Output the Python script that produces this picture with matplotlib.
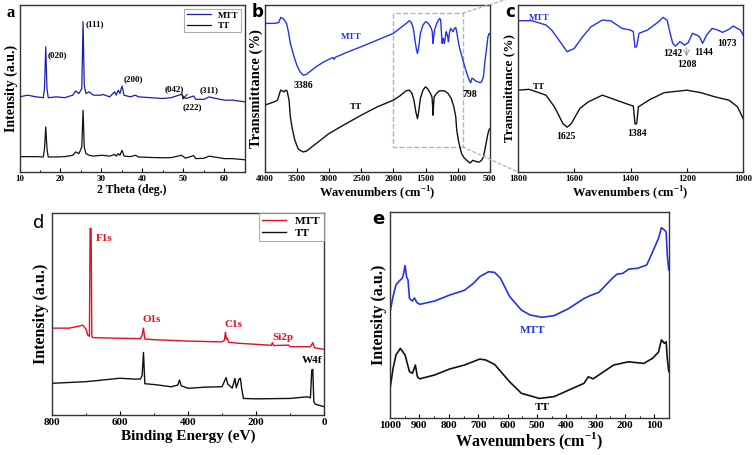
import matplotlib
matplotlib.use("Agg")
import matplotlib.pyplot as plt
from matplotlib.patches import Rectangle, ConnectionPatch

plt.rcParams['font.family'] = ['Liberation Serif', 'DejaVu Serif']
plt.rcParams['font.weight'] = 'bold'
plt.rcParams['axes.labelweight'] = 'bold'
plt.rcParams['mathtext.fontset'] = 'custom'
plt.rcParams['mathtext.rm'] = 'Liberation Serif:bold'
plt.rcParams['mathtext.bf'] = 'Liberation Serif:bold'

# ---------------- data (arbitrary units 0-100) ----------------
# a: XRD
xrd_theta = [10, 12, 14, 15.8, 16.1, 16.4, 16.7, 17, 19, 21, 23, 23.7, 24.5, 25.2, 25.5, 25.8,
             26.2, 27, 28, 30, 30.3, 32, 33.2, 33.6, 34.1, 34.5, 35.0, 35.5, 37, 38.3, 39, 42, 45,
             47, 49.5, 50.5, 52.5, 53, 55, 56.3, 57, 60, 62, 65]
xrd_mtt = [45, 46, 45, 44.5, 50, 75, 50, 44.5, 45, 44.5, 46, 48.5, 47, 50, 90, 52,
           47, 48, 46, 46, 46.5, 45, 48, 46, 49, 47, 51.5, 46, 45, 46, 45, 44.5, 44,
           44.5, 46.5, 44, 45.5, 43.5, 43.5, 45, 44.5, 43, 43, 42]
xrd_tt = [9.2, 9.2, 9.2, 9, 14, 27, 14, 9, 9, 9.2, 10, 12, 11, 15, 37, 15,
          11, 10, 9.5, 10, 10, 9.5, 10.5, 9.5, 11, 10, 13, 9.5, 9.2, 10, 9, 8.7, 8.5,
          8.6, 10, 8.3, 9.8, 8, 8.2, 9.5, 9.2, 8, 8, 7.3]
xrd_labels = ["(020)", "(111)", "(200)", "(042)", "(311)"]
xrd_label_pos = [(16.95, 70), (26.2, 88.6), (35.5, 55.7), (45.5, 49.7), (54.0, 49)]

# b: FTIR full range
ir_wn_mtt = [4000, 3850, 3780, 3750, 3720, 3700, 3660, 3630, 3600, 3550, 3500, 3450, 3400, 3386,
             3350, 3300, 3200, 3100, 3000, 2940, 2920, 2900, 2700, 2500, 2250, 2000, 1900, 1800,
             1750, 1720, 1690, 1660, 1640, 1625, 1605, 1580, 1540, 1500, 1470, 1440, 1410, 1395,
             1384, 1375, 1360, 1320, 1280, 1265, 1250, 1242, 1228, 1215, 1208, 1195, 1180, 1165,
             1150, 1144, 1130, 1110, 1090, 1073, 1050, 1030, 1010, 1000, 970, 940, 890, 840, 810,
             798, 780, 765, 720, 690, 650, 630, 600, 580, 555, 530, 510, 500]
ir_mtt = [89, 89, 89.5, 92.6, 92, 91.5, 89, 84, 77, 70, 64, 60, 58, 58,
          58.5, 60, 63, 65.5, 67.5, 68.5, 67.5, 68.7, 72, 75, 79, 83, 86, 89,
          90.6, 89.5, 86, 78, 73, 71, 75, 83, 88, 90, 89.5, 88, 86, 84,
          77, 80, 85, 89.5, 92, 91, 82, 77, 80, 79, 77, 80, 84, 82.5,
          80, 78, 83, 86, 85, 84, 86, 86.5, 83, 80, 74, 70, 63, 57, 54,
          53.5, 56, 56, 54.5, 54, 53.5, 54, 57, 65, 73, 81, 83, 82.6]
ir_wn_tt = [4000, 3850, 3800, 3760, 3750, 3720, 3700, 3670, 3650, 3620, 3600, 3570, 3530, 3480,
            3450, 3400, 3350, 3300, 3200, 3000, 2800, 2500, 2250, 2000, 1900, 1800, 1750, 1710,
            1680, 1650, 1625, 1610, 1580, 1540, 1500, 1470, 1430, 1400, 1390, 1384, 1377, 1365,
            1330, 1290, 1250, 1200, 1150, 1100, 1060, 1030, 1015, 990, 960, 940, 900, 860, 830,
            810, 790, 765, 730, 690, 660, 630, 600, 580, 555, 530, 510, 500]
ir_tt = [40, 42, 43, 48, 49, 48.5, 48, 49, 48.5, 43, 33, 26, 19, 14,
         13, 12, 12.5, 14, 17, 23, 27.5, 34, 39, 43, 45.5, 48.7, 49, 47,
         43, 36, 32, 35, 44, 49, 51, 50, 47.5, 45, 40, 34, 39, 45,
         47, 48.5, 48.7, 48.5, 47, 44, 39, 33, 25, 19, 14, 11, 8.5, 7, 6,
         5.4, 6, 7, 6.5, 6, 6, 7, 9, 13, 18, 23, 25.5, 26]

# c: FTIR zoom 1800-1000
c_wn_mtt = [1800, 1750, 1700, 1680, 1650, 1625, 1600, 1570, 1540, 1500, 1470, 1430, 1400, 1390,
            1384, 1378, 1370, 1340, 1300, 1285, 1270, 1262, 1250, 1240, 1225, 1215, 1208, 1195,
            1180, 1165, 1155, 1144, 1130, 1110, 1090, 1073, 1050, 1035, 1010, 1000]
c_mtt = [90.6, 90.6, 88, 85, 78, 72, 74, 81, 87, 91, 90.5, 86, 85, 84,
         74.7, 75, 83, 85, 90, 92.6, 91, 85, 77, 75.4, 78, 77, 76, 77.5,
         83, 82, 81, 77, 82, 86, 85, 83.6, 85.5, 87.4, 85, 82]
c_wn_tt = [1800, 1760, 1700, 1670, 1640, 1625, 1610, 1580, 1550, 1500, 1450, 1400, 1390, 1384,
           1378, 1372, 1330, 1280, 1200, 1150, 1100, 1050, 1020, 1000]
c_tt = [49, 49.5, 46, 39, 29, 26.8, 29, 38, 42, 46, 43, 40, 39.5, 28.7,
        29, 39, 43.5, 47.5, 49, 47.5, 45, 43, 39, 32]
c_labels = ["1625", "1384", "1242", "1208", "1144", "1073"]
c_label_pos = [(1629, 21), (1378, 23), (1250, 71), (1200, 64.5), (1139, 71.4), (1058, 77)]

# d: XPS survey
xps_be_mtt = [800, 750, 720, 710, 700, 695, 690, 688, 685, 683, 680, 600, 540, 535, 531, 527, 500,
              400, 300, 293, 290, 287, 284, 281, 250, 200, 155, 152, 148, 103, 100, 40, 33, 28,
              10, 0]
xps_mtt = [43, 43, 44, 44.5, 42.5, 39.6, 39, 92.4, 92.4, 39, 38.3, 38, 37.8, 39.5, 43, 37.6, 37.3,
           36.6, 36.2, 37, 41, 37.5, 38, 36, 35.5, 35, 34.5, 35.8, 34.4, 34.6, 33.8, 33.8, 35.8, 33.3,
           32.8, 32.5]
xps_be_tt = [800, 700, 600, 560, 540, 535, 531, 527, 495, 450, 430, 425, 420, 400, 350, 300, 288,
             283, 270, 262, 258, 250, 246, 242, 237, 200, 100, 50, 40, 36, 33, 30, 25, 10, 0]
xps_tt = [15.7, 16.5, 18.2, 17.8, 17.8, 19.5, 31, 15.5, 15, 14, 14.8, 17.3, 14.5, 13.2, 13.8, 14,
          18.5, 15.3, 13.3, 18.1, 13.5, 17.7, 18.2, 13, 8.2, 8, 8.2, 9, 8.5, 22.3, 22.6, 6.5, 5.3,
          4.6, 4.1]
xps_labels = ["F1s", "O1s", "C1s", "Si2p"]
xps_label_pos = [(671.5, 87.6), (506, 47.4), (266, 44.9), (120.6, 38.3)]

# e: Raman
ram_wn_mtt = [1000, 990, 980, 969, 959, 955, 949, 944, 939, 934, 924, 917, 909, 899, 848, 797, 747,
              716, 695, 665, 644, 624, 593, 553, 523, 482, 441, 391, 340, 319, 289, 249, 228, 208,
              187, 157, 126, 106, 86, 76, 66, 60, 56, 51, 50]
ram_mtt = [51.6, 59, 64.6, 66.5, 67.8, 69.4, 74, 68.6, 67, 58, 56.8, 58.3, 56.1, 55.2, 56.8, 59.7,
           62, 65.4, 68.6, 71, 70.7, 67.8, 59, 52.4, 50, 48.9, 49.7, 53.2, 58, 59.4, 61, 67, 69.8,
           70.2, 72.3, 72.7, 74.3, 80.7, 87.2, 92.4, 91.3, 90.4, 79, 71.8, 72]
ram_wn_tt = [1000, 990, 980, 965, 949, 934, 924, 914, 907, 899, 848, 797, 747, 695, 675, 644, 593,
             553, 492, 441, 391, 340, 325, 309, 289, 239, 188, 136, 106, 86, 76, 66, 60, 56, 51, 50]
ram_tt = [14.4, 24, 30.6, 33.8, 30.6, 22.5, 21.7, 25.7, 20, 19, 20.9, 23.8, 25.7, 28.6, 28.2, 26,
          17.6, 12, 9.5, 10.4, 13.6, 16.8, 20, 19, 20.9, 25.7, 27.3, 26.5, 29, 32, 37.9, 36.3, 37,
          29, 22.5, 22.5]

BLUE_A = "#1c1cb0"
BLUE = "#2233ee"
RED = "#e01020"
SPINE = "#333333"

fig = plt.figure(figsize=(7.56, 4.55), dpi=100)


def style(ax, xlim, xticks, tick_size, minor=None):
    ax.set_xlim(*xlim)
    ax.set_ylim(0, 100)
    ax.set_xticks(xticks)
    ax.set_xticklabels([str(t) for t in xticks], fontweight='bold', fontsize=tick_size)
    if minor is not None:
        ax.set_xticks(minor, minor=True)
    ax.set_yticks([])
    ax.tick_params(axis='x', direction='in', length=3, width=0.8, pad=2)
    ax.tick_params(axis='x', which='minor', direction='in', length=1.8, width=0.7)
    for sp in ax.spines.values():
        sp.set_color(SPINE)
        sp.set_linewidth(1.0)


# ---------------- a ----------------
ax_a = fig.add_axes([0.0258, 0.622, 0.2982, 0.367])
ax_a.plot(xrd_theta, xrd_mtt, color=BLUE_A, lw=0.9, label="MTT")
ax_a.plot(xrd_theta, xrd_tt, color="#111111", lw=0.9, label="TT")
style(ax_a, (10, 65), [10, 20, 30, 40, 50, 60], 6.5, minor=[15, 25, 35, 45, 55])
ax_a.set_xlabel("2 Theta (deg.)", fontsize=8.5, labelpad=1)
ax_a.set_ylabel("Intensity (a.u.)", fontsize=10, labelpad=1)
for lab, (x, y) in zip(xrd_labels, xrd_label_pos):
    ax_a.text(x, y, lab, fontsize=6.5, ha='left', va='center')
ax_a.text(49.9, 39, "(222)", fontsize=6.5, ha='left', va='center')
ax_a.annotate("", xy=(49.6, 41.5), xytext=(50.2, 46.5),
              arrowprops=dict(arrowstyle='->', color='#222222', lw=0.8))
leg = ax_a.legend(loc='upper right', fontsize=6.5, frameon=True, fancybox=False,
                  handlelength=2.6, borderaxespad=0.4, labelspacing=0.2, borderpad=0.3)
leg.get_frame().set_edgecolor('#999999')
leg.get_frame().set_linewidth(0.8)
fig.text(0.008, 0.972, "a", fontsize=12, weight='bold', va='center')

# ---------------- b ----------------
ax_b = fig.add_axes([0.350, 0.622, 0.298, 0.367])
ax_b.plot(ir_wn_mtt, ir_mtt, color=BLUE, lw=1.0)
ax_b.plot(ir_wn_tt, ir_tt, color="#111111", lw=1.0)
style(ax_b, (4000, 500), [4000, 3500, 3000, 2500, 2000, 1500, 1000, 500], 6.5)
ax_b.set_xlabel(r"Wavenumbers (cm$^{\mathrm{-1}}$)", fontsize=9, labelpad=1)
ax_b.set_ylabel("Transmittance (%)", fontsize=10.5, labelpad=1)
ax_b.text(2647, 81, "MTT", color=BLUE, fontsize=6.5, ha='center', va='center')
ax_b.text(3398, 52, "3386", fontsize=7, ha='center', va='center')
ax_b.text(2580, 38.7, "TT", fontsize=6.5, ha='center', va='center')
ax_b.text(810, 46.5, "798", fontsize=7, ha='center', va='center')
ax_b.add_patch(Rectangle((920, 15), 1080, 80.2, fill=False, ec='#aab8c2', lw=1.0, ls='--'))
fig.text(0.333, 0.974, "b", fontsize=12, weight='bold', family='DejaVu Sans', va='center')

# ---------------- c ----------------
ax_c = fig.add_axes([0.685, 0.622, 0.298, 0.367])
ax_c.plot(c_wn_mtt, c_mtt, color=BLUE, lw=1.0)
ax_c.plot(c_wn_tt, c_tt, color="#111111", lw=1.0)
style(ax_c, (1800, 1000), [1800, 1600, 1400, 1200, 1000], 6.5)
ax_c.set_xlabel(r"Wavenumbers (cm$^{\mathrm{-1}}$)", fontsize=9, labelpad=1)
ax_c.set_ylabel("Transmittance (%)", fontsize=9.5, labelpad=2)
ax_c.text(1725, 92, "MTT", color=BLUE, fontsize=6.5, ha='center', va='center')
ax_c.text(1725, 50.7, "TT", fontsize=6.5, ha='center', va='center')
for lab, (x, y) in zip(c_labels, c_label_pos):
    ax_c.text(x, y, lab, fontsize=7, ha='center', va='center')
ax_c.annotate("", xy=(1201, 67.5), xytext=(1201, 76),
              arrowprops=dict(arrowstyle='->', color='#99a6b0', lw=0.8))
fig.text(0.668, 0.974, "c", fontsize=12, weight='bold', family='DejaVu Sans', va='center')

for yb, yc in [(95.2, 1.054), (15, 0.0)]:
    con = ConnectionPatch(xyA=(920, yb), coordsA=ax_b.transData,
                          xyB=(0, yc), coordsB=ax_c.transAxes,
                          color='#aab8c2', lw=1.0, ls=(0, (2, 2)))
    fig.add_artist(con)

# ---------------- d ----------------
ax_d = fig.add_axes([0.0688, 0.0879, 0.3598, 0.4439])
ax_d.plot(xps_be_mtt, xps_mtt, color=RED, lw=1.0, label="MTT")
ax_d.plot(xps_be_tt, xps_tt, color="#111111", lw=1.0, label="TT")
style(ax_d, (800, 0), [800, 600, 400, 200, 0], 8, minor=[700, 500, 300, 100])
ax_d.set_xlabel("Binding Energy (eV)", fontsize=11, labelpad=2)
ax_d.set_ylabel("Intensity (a.u.)", fontsize=11.5, labelpad=2)
for lab, (x, y) in zip(xps_labels, xps_label_pos):
    ax_d.text(x, y, lab, color=RED, fontsize=8, ha='left' if lab == "F1s" else 'center',
              va='center')
ax_d.text(36, 26.9, "W4f", fontsize=8, ha='center', va='center')
leg = ax_d.legend(loc='upper right', fontsize=8, frameon=True, fancybox=False,
                  handlelength=2.2, borderaxespad=0.0, labelspacing=0.15, borderpad=0.3)
leg.get_frame().set_edgecolor('#999999')
leg.get_frame().set_linewidth(0.8)
fig.text(0.044, 0.51, "d", fontsize=13, weight='normal', family='DejaVu Sans', va='center')

# ---------------- e ----------------
ax_e = fig.add_axes([0.516, 0.0813, 0.369, 0.4527])
ax_e.plot(ram_wn_mtt, ram_mtt, color=BLUE, lw=1.2)
ax_e.plot(ram_wn_tt, ram_tt, color="#111111", lw=1.2)
style(ax_e, (1000, 50), [1000, 900, 800, 700, 600, 500, 400, 300, 200, 100], 8,
      minor=[950, 850, 750, 650, 550, 450, 350, 250, 150])
ax_e.set_xlabel(r"Wavenumbers (cm$^{\mathrm{-1}}$)", fontsize=11.5, labelpad=1)
ax_e.set_ylabel("Intensity (a.u.)", fontsize=11.5, labelpad=2)
ax_e.text(516, 42.7, "MTT", color=BLUE, fontsize=8, ha='center', va='center')
ax_e.text(481, 5, "TT", fontsize=8, ha='center', va='center')
fig.text(0.493, 0.518, "e", fontsize=13, weight='bold', family='DejaVu Sans', va='center')

fig.savefig("out.png", dpi=100)
